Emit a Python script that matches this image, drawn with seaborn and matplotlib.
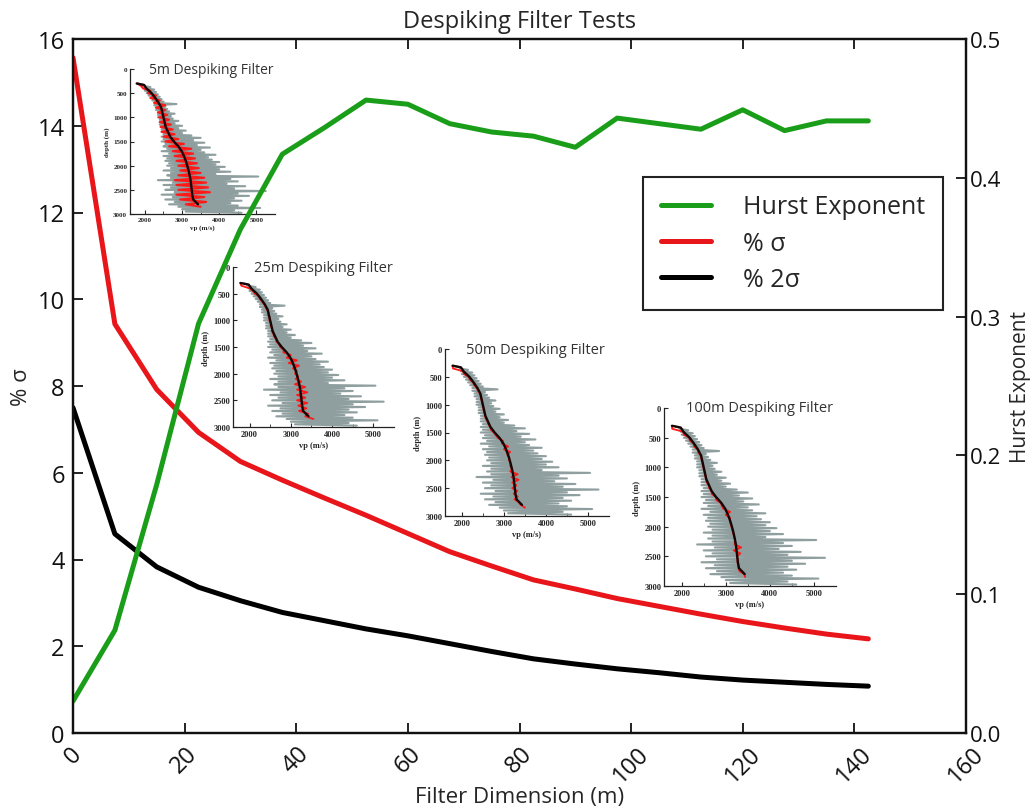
import numpy as np
import matplotlib
matplotlib.use("Agg")
import matplotlib.pyplot as plt
import seaborn as sns

# ---- main curves: filter length vs. residual spread and Hurst exponent ----
filter_dim = [0, 7.5, 15, 22.5, 30, 37.5, 45, 52.5, 60, 67.5, 75, 82.5,
              90, 97.5, 105, 112.5, 120, 127.5, 135, 142.5]
pct_sigma = [15.57, 9.43, 7.92, 6.93, 6.26, 5.83, 5.42, 5.02, 4.60, 4.18,
             3.85, 3.53, 3.32, 3.10, 2.92, 2.74, 2.57, 2.42, 2.28, 2.17]
pct_2sigma = [7.50, 4.59, 3.83, 3.36, 3.05, 2.78, 2.59, 2.40, 2.24, 2.06,
              1.88, 1.71, 1.59, 1.48, 1.39, 1.29, 1.22, 1.17, 1.12, 1.08]
hurst = [0.023, 0.074, 0.179, 0.295, 0.363, 0.417, 0.436, 0.456, 0.453, 0.439,
         0.433, 0.430, 0.422, 0.443, 0.439, 0.435, 0.449, 0.434, 0.441, 0.441]

x_ticks = [0, 20, 40, 60, 80, 100, 120, 140, 160]
left_ticks = [0, 2, 4, 6, 8, 10, 12, 14, 16]
right_ticks = [0.0, 0.1, 0.2, 0.3, 0.4, 0.5]

# ---- well log shown in the small panels (depth in m, vp in m/s) ----
log_depth = [300, 350, 400, 450, 500, 550, 600, 650, 700, 750, 800, 850,
             900, 950, 1000, 1050, 1100, 1150, 1200, 1250, 1300, 1350, 1400,
             1450, 1500, 1550, 1600, 1650, 1700, 1750, 1800, 1850, 1900, 1950,
             2000, 2050, 2100, 2150, 2200, 2250, 2300, 2350, 2400, 2450, 2500,
             2550, 2600, 2650, 2700, 2750, 2800, 2850, 2900, 2950]
log_vp_low = [1800, 1950, 1980, 2000, 2050, 2100, 2150, 2200, 2250, 2250, 2300,
              2300, 2350, 2350, 2350, 2400, 2400, 2400, 2450, 2450, 2450, 2500,
              2450, 2500, 2450, 2550, 2500, 2600, 2450, 2650, 2500, 2600, 2550,
              2650, 2600, 2700, 2500, 2700, 2600, 2700, 2350, 2750, 2500, 2700,
              2550, 2800, 2450, 2750, 2550, 2800, 2650, 2900, 3000, 3100]
log_vp_high = [1950, 2150, 2250, 2300, 2350, 2400, 2450, 2500, 2850, 2550, 2600,
               2650, 2800, 2700, 2750, 2900, 2800, 3000, 2900, 3100, 3000, 3250,
               3500, 3300, 3600, 3400, 3750, 3500, 3600, 3900, 3700, 3800, 4000,
               3900, 4150, 4000, 4300, 3900, 5050, 4300, 4500, 4200, 4700, 4400,
               5250, 4500, 4800, 4400, 4600, 4300, 4500, 5100, 4400, 4600]

trend_depth = [300, 330, 400, 500, 600, 700, 800, 900, 1000, 1100, 1200, 1300,
               1400, 1500, 1600, 1700, 1800, 1900, 2000, 2100, 2200, 2300, 2400,
               2500, 2600, 2700, 2800]
trend_vp = [1780, 1980, 2040, 2180, 2280, 2370, 2440, 2470, 2500, 2530, 2560,
            2620, 2680, 2780, 2900, 2990, 3050, 3100, 3140, 3175, 3205, 3230,
            3245, 3260, 3275, 3300, 3430]

despiked_depth = [300, 400, 500, 600, 700, 800, 900, 1000, 1100, 1200, 1300,
                  1400, 1500, 1600, 1700, 1800, 1900, 2000, 2100, 2200, 2300,
                  2400, 2500, 2600, 2700, 2800]
despiked_5_low = [1800, 1950, 2080, 2150, 2250, 2300, 2350, 2380, 2400, 2420,
                  2450, 2500, 2550, 2650, 2750, 2800, 2850, 2900, 2950, 2900,
                  2800, 2850, 2900, 2850, 2950, 3100]
despiked_5_high = [1900, 2150, 2300, 2400, 2550, 2550, 2600, 2650, 2700, 2750,
                   2800, 2900, 3050, 3250, 3300, 3350, 3400, 3450, 3500, 3600,
                   3650, 3700, 3750, 3600, 3650, 3500]
despiked_25_low = [1780, 2000, 2130, 2250, 2350, 2420, 2450, 2480, 2510, 2540,
                   2590, 2650, 2740, 2820, 2900, 2950, 3050, 3100, 3120, 3100,
                   3150, 3150, 3150, 3180, 3200, 3350]
despiked_25_high = [1800, 2080, 2230, 2310, 2390, 2460, 2490, 2520, 2550, 2580,
                    2650, 2720, 2830, 3000, 3150, 3200, 3150, 3180, 3250, 3350,
                    3400, 3350, 3400, 3380, 3420, 3550]
despiked_50_low = [1780, 2030, 2170, 2270, 2360, 2430, 2460, 2490, 2520, 2550,
                   2610, 2670, 2760, 2860, 2950, 3000, 3080, 3120, 3150, 3150,
                   3180, 3200, 3200, 3230, 3250, 3400]
despiked_50_high = [1790, 2050, 2190, 2290, 2380, 2450, 2480, 2510, 2540, 2570,
                    2630, 2690, 2810, 2980, 3100, 3150, 3130, 3160, 3200, 3330,
                    3350, 3300, 3320, 3330, 3350, 3500]
despiked_100_low = [1780, 2035, 2175, 2275, 2365, 2435, 2465, 2495, 2525, 2555,
                    2615, 2675, 2775, 2890, 2950, 3000, 3090, 3130, 3165, 3200,
                    3200, 3180, 3250, 3265, 3290, 3420]
despiked_100_high = [1785, 2045, 2185, 2285, 2375, 2445, 2475, 2505, 2535, 2565,
                     2625, 2685, 2785, 2910, 3100, 3100, 3110, 3150, 3185, 3210,
                     3350, 3330, 3270, 3285, 3310, 3440]

panel_titles = ["5m Despiking Filter", "25m Despiking Filter",
                "50m Despiking Filter", "100m Despiking Filter"]
panel_vp_ticks = [2000, 3000, 4000, 5000]
panel_depth_ticks = [0, 500, 1000, 1500, 2000, 2500, 3000]

# ---- styling ----
sns.set_theme(style="white")
plt.rcParams["font.family"] = ["Open Sans", "DejaVu Sans"]

GREEN = "#1a9e1a"
RED = "#e8161a"
BLACK = "#000000"
LOG_GREY = "#8f9f9f"
LOG_RED = "#ff1a1a"

W, H = 1033, 812
fig = plt.figure(figsize=(W / 100, H / 100), dpi=100)
fig.patch.set_facecolor("white")


def px_rect(left, top, right, bottom):
    return [left / W, 1 - bottom / H, (right - left) / W, (bottom - top) / H]


ax = fig.add_axes(px_rect(73, 40, 966, 734))
ax2 = ax.twinx()
ax.set_zorder(3)
ax2.set_zorder(4)
ax.patch.set_visible(False)
ax2.patch.set_visible(False)

sns.lineplot(x=filter_dim, y=pct_sigma, ax=ax, color=RED, lw=3.6,
             legend=False, estimator=None)
sns.lineplot(x=filter_dim, y=pct_2sigma, ax=ax, color=BLACK, lw=3.6,
             legend=False, estimator=None)
sns.lineplot(x=filter_dim, y=hurst, ax=ax2, color=GREEN, lw=3.6,
             legend=False, estimator=None)

ax.set_xlim(0, 160)
ax.set_ylim(0, 16)
ax2.set_ylim(0, 0.5)
ax.set_xticks(x_ticks)
ax.set_xticklabels([str(t) for t in x_ticks], rotation=45, ha="center")
ax.set_yticks(left_ticks)
ax.set_yticklabels([str(t) for t in left_ticks])
ax2.set_yticks(right_ticks)
ax2.set_yticklabels([f"{t:.1f}" for t in right_ticks])

tick_font = 17
ax.tick_params(axis="x", direction="in", length=7, width=1.3, top=True,
               bottom=True, labelsize=tick_font, pad=6, colors="#111111")
ax.tick_params(axis="y", direction="in", length=7, width=1.3, left=True,
               right=False, labelsize=tick_font, pad=6, colors="#111111")
ax2.tick_params(axis="y", direction="in", length=7, width=1.3, right=True,
                labelsize=16, pad=3, colors="#111111")
for a in (ax, ax2):
    for s in a.spines.values():
        s.set_color("#111111")
        s.set_linewidth(1.6)
        s.set_visible(True)

ax.set_xlabel("Filter Dimension (m)", fontsize=16)
ax.xaxis.set_label_coords(0.5, -0.076)
ax.set_ylabel("% σ", fontsize=16)
ax.yaxis.set_label_coords(-0.046, 0.5)
ax2.set_ylabel("Hurst Exponent", fontsize=15)
ax2.yaxis.set_label_coords(1.049, 0.5)
ax.set_title("Despiking Filter Tests", fontsize=17, pad=9)

handles = [ax2.get_lines()[0], ax.get_lines()[0], ax.get_lines()[1]]
leg = ax.legend(handles, ["Hurst Exponent", "% σ", "% 2σ"],
                loc="upper right", bbox_to_anchor=(943 / W, 1 - 178 / H),
                bbox_transform=fig.transFigure, borderaxespad=0,
                fontsize=18, frameon=True, fancybox=False, framealpha=1,
                edgecolor="#222222", handlelength=2.0, handletextpad=1.3,
                labelspacing=0.45, borderpad=0.7)
leg.get_frame().set_linewidth(1.5)
leg.set_zorder(10)


# ---- small log panels ----
def zigzag(depths, low, high, half_step):
    xs, ys = [], []
    for d, lo, hi in zip(depths, low, high):
        xs += [lo, hi]
        ys += [d, d + half_step]
    return np.array(xs), np.array(ys)


panels = [
    (px_rect(130, 70, 275, 215), despiked_5_low, despiked_5_high, 5.0, 10, 1.5),
    (px_rect(233, 268, 394, 428), despiked_25_low, despiked_25_high, 6.0, 10.5, 1.3),
    (px_rect(445, 350, 609, 517), despiked_50_low, despiked_50_high, 6.0, 10.5, 1.3),
    (px_rect(664, 409, 836, 587), despiked_100_low, despiked_100_high, 6.0, 10.5, 1.3),
]

serif = ["Liberation Serif", "DejaVu Serif"]
gx, gy = zigzag(log_depth, log_vp_low, log_vp_high, 25)
for (rect, lo, hi, fs, tfs, red_lw), title in zip(panels, panel_titles):
    ia = fig.add_axes(rect)
    ia.set_zorder(1)
    ia.patch.set_visible(False)
    sns.lineplot(x=gx, y=gy, ax=ia, color=LOG_GREY, lw=1.5, sort=False,
                 estimator=None, legend=False)
    rx, ry = zigzag(despiked_depth, lo, hi, 50)
    sns.lineplot(x=rx, y=ry, ax=ia, color=LOG_RED, lw=red_lw, sort=False,
                 estimator=None, legend=False)
    sns.lineplot(x=trend_vp, y=trend_depth, ax=ia, color="#150505", lw=1.7,
                 sort=False, estimator=None, legend=False)
    ia.set_xlim(1600, 5500)
    ia.set_ylim(3000, 0)
    ia.set_xticks(panel_vp_ticks)
    ia.set_xticks([2500, 3500, 4500], minor=True)
    ia.set_yticks(panel_depth_ticks)
    ia.set_xticklabels([str(t) for t in panel_vp_ticks], fontsize=fs,
                       fontweight="bold", family=serif)
    ia.set_yticklabels([str(t) for t in panel_depth_ticks], fontsize=fs,
                       fontweight="bold", family=serif)
    ia.tick_params(axis="both", which="major", direction="in", length=3,
                   width=0.8, pad=2, left=True, bottom=True)
    ia.tick_params(axis="x", which="minor", direction="in", length=2,
                   width=0.6, bottom=True)
    for side in ("top", "right"):
        ia.spines[side].set_visible(False)
    for side in ("left", "bottom"):
        ia.spines[side].set_color("#222222")
        ia.spines[side].set_linewidth(0.9)
    ia.set_xlabel("vp (m/s)", fontsize=fs, fontweight="bold", family=serif,
                  labelpad=2)
    ia.set_ylabel("depth (m)", fontsize=fs, fontweight="bold", family=serif,
                  labelpad=2)
    ia.text(0.13, 1.0, title, transform=ia.transAxes, ha="left", va="center",
            fontsize=tfs, color="#333333")

fig.savefig("out.png", dpi=100, facecolor="white")
